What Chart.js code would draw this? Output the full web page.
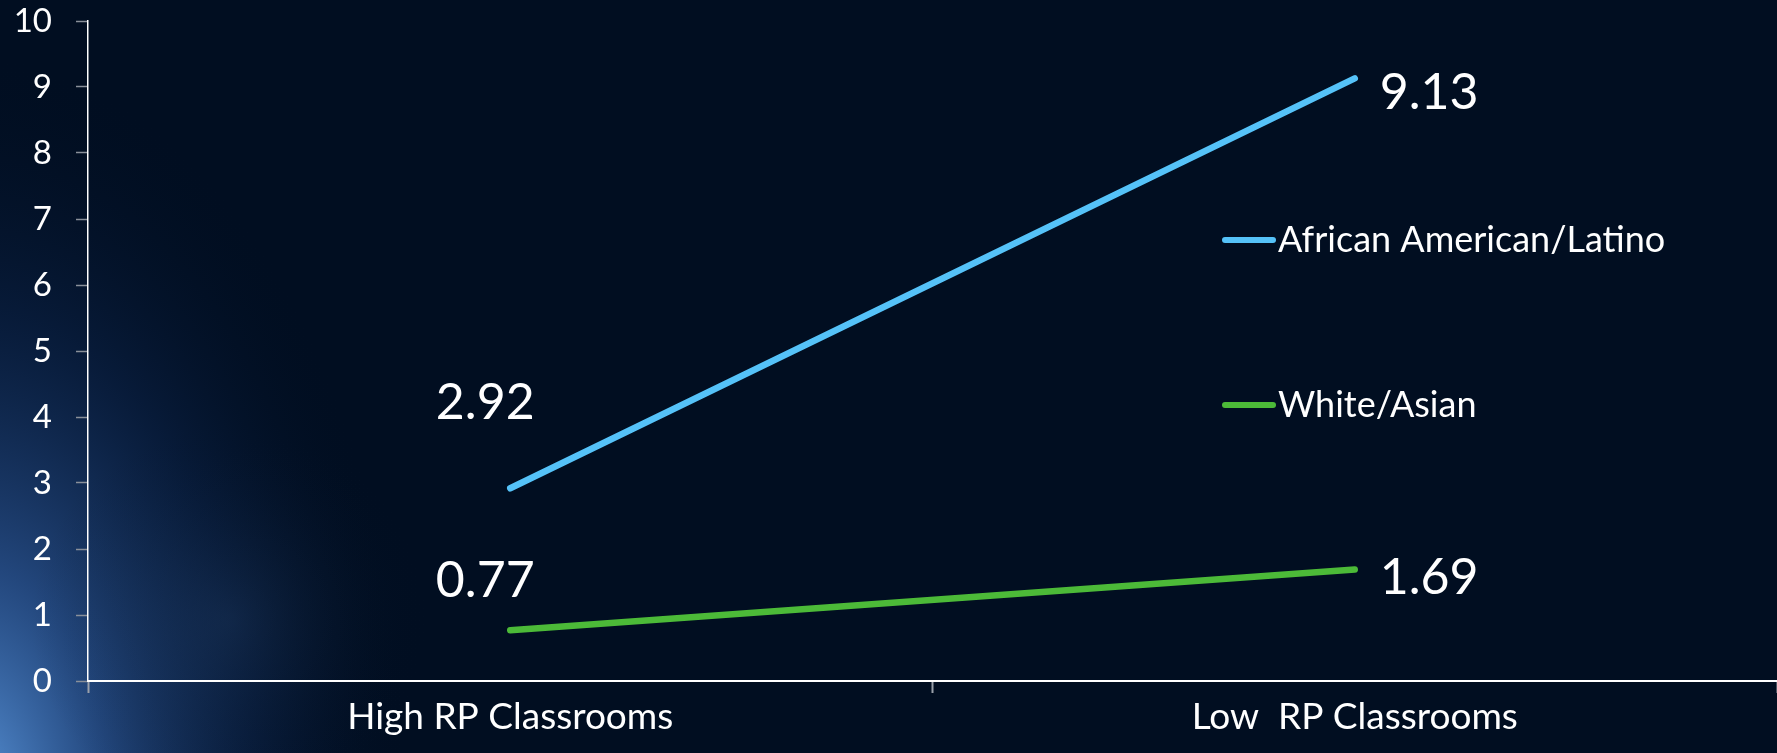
<!DOCTYPE html>
<html>
<head>
<meta charset="utf-8">
<script src="https://cdn.jsdelivr.net/npm/chart.js@4/dist/chart.umd.min.js"></script>
<style>
  html, body { margin: 0; padding: 0; background: #010e21; }
  #wrap { width: 1777px; height: 753px; position: relative; }
</style>
</head>
<body>
<div id="wrap"><canvas id="c" width="1777" height="753"></canvas></div>
<script>
const categories = ["High RP Classrooms", "Low  RP Classrooms"];
const seriesNames = ["African American/Latino", "White/Asian"];
const africanAmericanLatino = [2.92, 9.13];
const whiteAsian = [0.77, 1.69];
const yTicks = [0, 1, 2, 3, 4, 5, 6, 7, 8, 9, 10];

const FONT = "Lato, 'Open Sans', sans-serif";

const bgPlugin = {
  id: 'bg',
  beforeDraw(chart) {
    const ctx = chart.ctx, w = chart.width, h = chart.height;
    ctx.save();
    ctx.fillStyle = '#010e21';
    ctx.fillRect(0, 0, w, h);
    ctx.save();
    ctx.translate(-30, 800);
    ctx.scale(1, 1.7);
    let g = ctx.createRadialGradient(0, 0, 10, 0, 0, 440);
    g.addColorStop(0, 'rgba(90,150,220,0.95)');
    g.addColorStop(0.3, 'rgba(55,105,180,0.62)');
    g.addColorStop(0.65, 'rgba(22,55,110,0.3)');
    g.addColorStop(1, 'rgba(1,14,33,0)');
    ctx.fillStyle = g;
    ctx.fillRect(-100, -700, 700, 800);
    ctx.restore();
    let g2 = ctx.createRadialGradient(230, 620, 5, 230, 620, 200);
    g2.addColorStop(0, 'rgba(40,70,110,0.25)');
    g2.addColorStop(1, 'rgba(1,14,33,0)');
    ctx.fillStyle = g2;
    ctx.fillRect(0, 0, w, h);
    ctx.restore();
  }
};

const valueLabels = {
  id: 'valueLabels',
  afterDatasetsDraw(chart, args, opts) {
    const ctx = chart.ctx;
    ctx.save();
    ctx.fillStyle = '#ffffff';
    ctx.font = '50px ' + FONT;
    chart.data.datasets.forEach((ds, di) => {
      const meta = chart.getDatasetMeta(di);
      meta.data.forEach((pt, i) => {
        const txt = ds.data[i].toFixed(2);
        ctx.textBaseline = 'middle';
        if (i === 0) {
          ctx.textAlign = 'center';
          ctx.fillText(txt, pt.x - 25, pt.y - opts.leftDy[di]);
        } else {
          ctx.textAlign = 'left';
          ctx.fillText(txt, pt.x + 25, pt.y + opts.rightDy[di]);
        }
      });
    });
    ctx.restore();
  }
};

const customLegend = {
  id: 'customLegend',
  afterDraw(chart, args, opts) {
    const ctx = chart.ctx;
    ctx.save();
    ctx.font = '36px ' + FONT;
    ctx.textBaseline = 'middle';
    ctx.textAlign = 'left';
    chart.data.datasets.forEach((ds, di) => {
      const y = opts.ys[di];
      ctx.strokeStyle = ds.borderColor;
      ctx.lineWidth = 6;
      ctx.lineCap = 'round';
      ctx.beginPath();
      ctx.moveTo(opts.x, y);
      ctx.lineTo(opts.x + 48, y);
      ctx.stroke();
      ctx.fillStyle = '#ffffff';
      ctx.fillText(ds.label, opts.x + 53, y);
    });
    ctx.restore();
  }
};

new Chart(document.getElementById('c'), {
  type: 'line',
  data: {
    labels: categories,
    datasets: [
      { label: seriesNames[0], data: africanAmericanLatino, borderColor: '#55c2f8', borderWidth: 6.5,
        borderCapStyle: 'round', pointRadius: 0, tension: 0, fill: false },
      { label: seriesNames[1], data: whiteAsian, borderColor: '#4cba38', borderWidth: 6.5,
        borderCapStyle: 'round', pointRadius: 0, tension: 0, fill: false }
    ]
  },
  options: {
    responsive: false,
    animation: false,
    layout: { padding: { top: 21, left: 0, right: 0, bottom: 0 } },
    plugins: {
      legend: { display: false },
      tooltip: { enabled: false },
      valueLabels: { leftDy: [85, 49], rightDy: [14, 8] },
      customLegend: { x: 1225, ys: [240, 405] }
    },
    scales: {
      x: {
        type: 'category',
        offset: true,
        grid: { offset: true, drawOnChartArea: false, drawTicks: true, tickLength: 12, tickColor: '#9aa0aa', tickWidth: 2 },
        border: { display: true, color: '#ffffff', width: 2 },
        ticks: { color: '#ffffff', font: { family: FONT, size: 37 }, padding: 2, maxRotation: 0, autoSkip: false },
        afterFit(scale) { scale.height = 72; scale.paddingLeft = 0; scale.paddingRight = 0; }
      },
      y: {
        min: 0, max: 10,
        afterBuildTicks(scale) { scale.ticks = yTicks.map(v => ({ value: v })); },
        grid: { drawOnChartArea: false, drawTicks: true, tickLength: 12, tickColor: '#8a909a', tickWidth: 1.5 },
        border: { display: true, color: '#ffffff', width: 1.5 },
        ticks: { color: '#ffffff', font: { family: FONT, size: 33 }, padding: 24 },
        afterFit(scale) { scale.width = 88; scale.paddingTop = 0; scale.paddingBottom = 0; }
      }
    }
  },
  plugins: [bgPlugin, valueLabels, customLegend]
});
</script>
</body>
</html>
